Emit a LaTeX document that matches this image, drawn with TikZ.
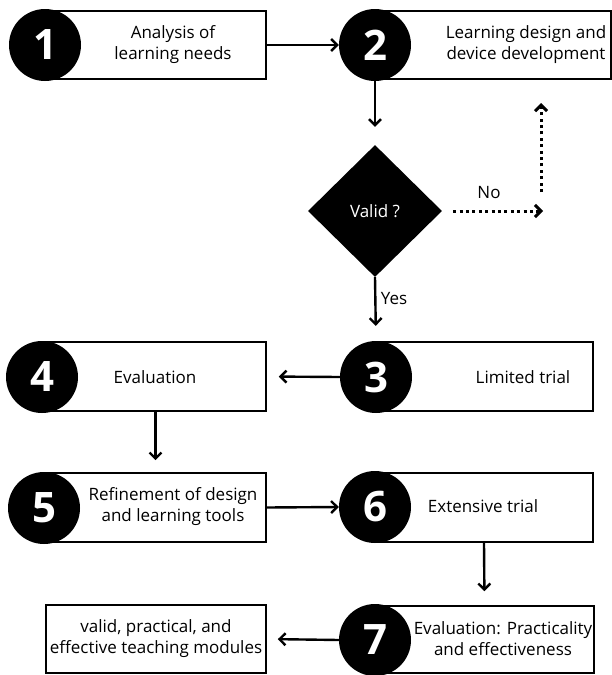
\documentclass[tikz,border=0pt]{standalone}
\usepackage{fontspec}
\setmainfont{Open Sans}
\usetikzlibrary{shapes.geometric,arrows.meta}

\tikzset{
  stepbox/.style={draw=black, line width=1.6pt, fill=white, inner sep=0pt},
  stepnum/.style={circle, fill=black, minimum size=72pt, inner sep=0pt,
    text=white, font=\fontsize{42}{42}\selectfont\bfseries},
  steptext/.style={align=center, inner sep=0pt, font=\fontsize{17}{21}\selectfont},
  flow/.style={-{Straight Barb[length=6pt,width=12pt]}, line width=2.4pt},
  noflow/.style={flow, line width=3pt, dash pattern=on 3pt off 3.4pt}
}

\begin{document}
\begin{tikzpicture}[x=1pt,y=-1pt]
    \useasboundingbox (0,0) rectangle (612,675);

    % Top row
    \node [stepbox, minimum width=221pt, minimum height=68pt] (box1) at (155.5,45) {};
    \node [stepnum] (num1) at (45,45) {1};
    \node [steptext] (txt1) at (173,45) {Analysis of\\learning needs};

    \node [stepbox, minimum width=236pt, minimum height=68pt] (box2) at (493,45) {};
    \node [stepnum] (num2) at (375,45) {2};
    \node [steptext] (txt2) at (526,45) {Learning design and\\device development};

    % The check
    \node [diamond, fill=black, minimum width=134pt, minimum height=132pt, inner sep=0pt,
           text=white, font=\fontsize{17}{20}\selectfont] (valid) at (375,211) {Valid ?};
    \coordinate (noend) at (543,211);
    \coordinate (backstart) at (541,192);
    \coordinate (backend) at (541,103);

    % Trials and evaluation
    \node [stepbox, minimum width=218pt, minimum height=69pt] (box3) at (484,376.5) {};
    \node [stepnum] (num3) at (376,377) {3};
    \node [steptext] (txt3) at (523,377) {Limited trial};

    \node [stepbox, minimum width=221pt, minimum height=69pt] (box4) at (155.5,376.5) {};
    \node [stepnum] (num4) at (42,377) {4};
    \node [steptext] (txt4) at (155,377) {Evaluation};

    \node [stepbox, minimum width=221pt, minimum height=69pt] (box5) at (155.5,507.5) {};
    \node [stepnum] (num5) at (44,508) {5};
    \node [steptext] (txt5) at (173,507) {Refinement of design\\and learning tools};

    \node [stepbox, minimum width=218pt, minimum height=69pt] (box6) at (484,507.5) {};
    \node [stepnum] (num6) at (375,507) {6};
    \node [steptext] (txt6) at (483,506) {Extensive trial};

    \node [stepbox, minimum width=219pt, minimum height=67pt] (box7) at (484.5,639.5) {};
    \node [stepnum] (num7) at (375,640) {7};
    \node [steptext] (txt7) at (503,639) {Evaluation: Practicality\\and effectiveness};

    % The result
    \node [stepbox, minimum width=220pt, minimum height=68pt] (final) at (156,639) {};
    \node [steptext] (txtfinal) at (156,639) {valid, practical, and\\effective teaching modules};

    % Connectors
    \draw [flow] (box1.east) -- (num2.west);
    \draw [flow, shorten >=18pt] (num2.south) -- (valid.north);
    \draw [noflow, shorten <=11pt] (valid.east) -- (noend);
    \draw [noflow] (backstart) -- (backend);
    \draw [flow, shorten >=15pt] (valid.south) -- (num3.north);
    \draw [flow, shorten >=12pt] (num3.west) -- (box4.east);
    \draw [flow, shorten >=12pt] (box4.south) -- (box5.north);
    \draw [flow] (box5.east) -- (num6.west);
    \draw [flow, shorten >=14pt] (box6.south) -- (box7.north);
    \draw [flow, shorten >=11pt] (num7.west) -- (final.east);

    % Labels on the check
    \node [steptext] (nolabel) at (489,193) {No};
    \node [steptext] (yeslabel) at (394,299) {Yes};
  \end{tikzpicture}
\end{document}
